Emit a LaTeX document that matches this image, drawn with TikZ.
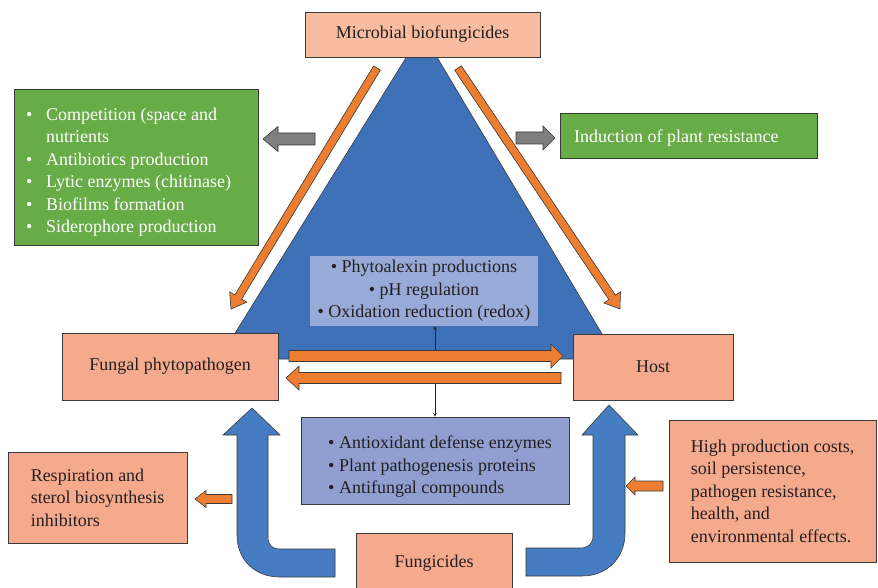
\documentclass[tikz,border=0pt]{standalone}
\usepackage{fontspec}
\setmainfont{Liberation Serif}
\usetikzlibrary{calc}

\definecolor{salmontop}{HTML}{F8BDA1}
\definecolor{salmonbox}{HTML}{F5AA8E}
\definecolor{leafgreen}{HTML}{68AC48}
\definecolor{triblue}{HTML}{3F71B9}
\definecolor{ublue}{HTML}{467DC2}
\definecolor{paleblue}{HTML}{97AAD8}
\definecolor{lilac}{HTML}{909ED0}
\definecolor{arrorange}{HTML}{ED7D31}
\definecolor{arrgray}{HTML}{7F7F7F}
\definecolor{edge}{HTML}{3A3A3A}
\definecolor{ink}{HTML}{231F20}

\tikzset{
  box/.style={draw=edge, line width=0.8pt, fill=salmonbox, text=ink, inner sep=0pt, align=center},
  greenbox/.style={box, fill=leafgreen, text=white},
  blockarr/.style={draw=edge, line width=0.6pt, fill=arrorange},
  bluebend/.style={draw=edge, line width=0.6pt, fill=ublue}
}

% block arrow: tail, tip, half shaft, half head, head length
\newcommand{\blockarrow}[6][]{%
  \coordinate (ba) at ($(#3)!#6!(#2)$);
  \draw[blockarr,#1] ($(#2)!#4!90:(#3)$) -- ($(ba)!#4!90:(#3)$) -- ($(ba)!#5!90:(#3)$) -- (#3)
    -- ($(ba)!#5!-90:(#3)$) -- ($(ba)!#4!-90:(#3)$) -- ($(#2)!#4!-90:(#3)$) -- cycle;
}

\begin{document}
\begin{tikzpicture}[x=1pt,y=-1pt,every node/.style={font=\fontsize{18}{22.5}\selectfont}]
  \useasboundingbox (0,0) rectangle (878,588);
  % triangle
  \draw[draw=edge, fill=triblue, line width=0.6pt] (422,32) -- (617,359) -- (219,359) -- cycle;

  % diagonal arrows from the biofungicides
  \coordinate (dl-t) at (377,68);
  \coordinate (dl-h) at (231,309);
  \blockarrow{dl-t}{dl-h}{4pt}{10pt}{14pt}
  \coordinate (dr-t) at (458,68);
  \coordinate (dr-h) at (620,309);
  \blockarrow{dr-t}{dr-h}{4pt}{10pt}{14pt}

  % boxes
  \node[box, fill=salmontop, minimum width=235pt, minimum height=45pt] (bio) at (422.5,34.5) {Microbial biofungicides};
  \node[box, minimum width=216pt, minimum height=67pt] (fungus) at (170,366.5) {Fungal phytopathogen};
  \node[box, minimum width=160pt, minimum height=66pt] (host) at (653,367) {Host};
  \node[box, minimum width=156pt, minimum height=60pt] (chem) at (434,563) {Fungicides};
  \node[box, align=left, minimum width=179pt, minimum height=91pt] (inhib) at (97.5,497.5)
    {Respiration and\\sterol biosynthesis\\inhibitors};
  \node[box, align=left, minimum width=207pt, minimum height=142pt] (costs) at (772.5,491)
    {High production costs,\\soil persistence,\\pathogen resistance,\\health, and\\environmental effects.};
  \node[greenbox, minimum width=244pt, minimum height=156pt] (modes) at (136,167) {};
  \node[text=white, align=left, anchor=west, inner sep=0pt] (modestxt) at (26,172)
    {\makebox[20pt][l]{\textbullet}Competition (space and\\
     \hspace*{20pt}nutrients\\
     \makebox[20pt][l]{\textbullet}Antibiotics production\\
     \makebox[20pt][l]{\textbullet}Lytic enzymes (chitinase)\\
     \makebox[20pt][l]{\textbullet}Biofilms formation\\
     \makebox[20pt][l]{\textbullet}Siderophore production};
  \node[greenbox, minimum width=257pt, minimum height=45pt] (isr) at (688.5,135.5) {};
  \node[text=white, anchor=west, inner sep=0pt] (isrtxt) at (574,138) {Induction of plant resistance};
  \node[fill=paleblue, text=ink, align=center, inner sep=0pt, minimum width=228pt, minimum height=70pt] (phyto) at (424,291)
    {\textbullet{} Phytoalexin productions\\\textbullet{} pH regulation\\\textbullet{} Oxidation reduction (redox)};
  \node[box, fill=lilac, minimum width=268pt, minimum height=87pt] (defense) at (435,460.5) {};
  \node[text=ink, align=left, anchor=west, inner sep=0pt] (defensetxt) at (328,467)
    {\textbullet{} Antioxidant defense enzymes\\\textbullet{} Plant pathogenesis proteins\\\textbullet{} Antifungal compounds};

  % gray arrows
  \coordinate (gl-t) at (315,139);
  \coordinate (gl-h) at (263,139);
  \blockarrow[fill=arrgray]{gl-t}{gl-h}{6pt}{12.5pt}{15pt}
  \coordinate (gr-t) at (516,138);
  \coordinate (gr-h) at (555,138);
  \blockarrow[fill=arrgray]{gr-t}{gr-h}{6pt}{12pt}{12pt}

  % exchange between pathogen and host
  \coordinate (fh-t) at (289,356);
  \coordinate (fh-h) at (563,356);
  \blockarrow{fh-t}{fh-h}{5.5pt}{12pt}{12pt}
  \coordinate (hf-t) at (561,378);
  \coordinate (hf-h) at (286,378);
  \blockarrow{hf-t}{hf-h}{5.5pt}{12pt}{13pt}
  \coordinate (up-s) at (435,350);
  \draw[-stealth, ink, line width=0.6pt] (up-s) -- (up-s |- phyto.south);
  \coordinate (dn-s) at (435,384);
  \draw[-stealth, ink, line width=0.6pt] (dn-s) -- (defense.north);

  % small orange arrows
  \coordinate (sl-t) at (232,499);
  \coordinate (sl-h) at (195,499);
  \blockarrow{sl-t}{sl-h}{4.5pt}{8.5pt}{11pt}
  \coordinate (sr-t) at (663,486);
  \coordinate (sr-h) at (626,486);
  \blockarrow{sr-t}{sr-h}{5pt}{9pt}{9pt}

  % fungicides to pathogen and host
  \draw[bluebend] (335,549) -- (280,549) .. controls (272,549) and (268,545) .. (268,537)
    -- (268,435) -- (280,435) -- (252,408) -- (223,435) -- (237,435) -- (237,535)
    .. controls (237,560) and (255,577) .. (280,577) -- (335,577) -- cycle;
  \draw[bluebend] (526,548) -- (580,548) .. controls (588,548) and (593,544) .. (593,536)
    -- (593,435) -- (582,435) -- (609,405) -- (638,435) -- (625,435) -- (625,533)
    .. controls (625,558) and (607,576) .. (582,576) -- (526,576) -- cycle;
\end{tikzpicture}
\end{document}
